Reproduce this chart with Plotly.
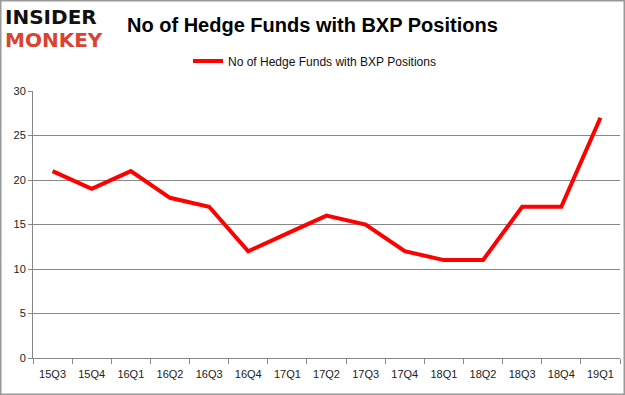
import plotly.graph_objects as go

quarters = ["15Q3", "15Q4", "16Q1", "16Q2", "16Q3", "16Q4", "17Q1", "17Q2",
            "17Q3", "17Q4", "18Q1", "18Q2", "18Q3", "18Q4", "19Q1"]
funds = [21, 19, 21, 18, 17, 12, 14, 16, 15, 12, 11, 11, 17, 17, 27]
series_name = "No of Hedge Funds with BXP Positions"
y_ticks = [0, 5, 10, 15, 20, 25, 30]

W, H = 625, 395
L, R, T, B = 33, 5, 91, 37
PW, PH = W - L - R, H - T - B


def px(x):
    return (x - L) / PW


def py(y):
    return (H - B - y) / PH


fig = go.Figure()
fig.add_trace(go.Scatter(x=quarters, y=funds, mode="lines", name=series_name,
                         line=dict(color="#FF0000", width=4)))

axis_font = dict(family="Liberation Sans, Arial, sans-serif", size=11, color="#222222")
fig.update_layout(
    width=W, height=H,
    margin=dict(l=L, r=R, t=T, b=B, autoexpand=False),
    paper_bgcolor="white", plot_bgcolor="white",
    showlegend=True,
    legend=dict(orientation="h", x=px(188), xanchor="left", y=py(61), yanchor="middle",
                font=dict(family="Liberation Sans, Arial, sans-serif", size=12, color="#111111"),
                bgcolor="rgba(0,0,0,0)"),
    xaxis=dict(type="category", range=[-0.5, 14.5], showgrid=False, automargin=False,
               showline=True, linecolor="#888888", linewidth=1,
               ticks="outside", tickson="boundaries", ticklen=5, tickcolor="#888888",
               ticklabelstandoff=6, tickfont=axis_font),
    yaxis=dict(range=[0, 30], tickvals=y_ticks, showgrid=True, gridcolor="#888888",
               gridwidth=1, showline=True, linecolor="#888888", linewidth=1, automargin=False,
               ticks="outside", ticklen=4, tickcolor="#888888", zeroline=False,
               tickfont=axis_font),
)

fig.add_annotation(text="<b>No of Hedge Funds with BXP Positions</b>", xref="paper", yref="paper",
                   x=px(312), y=py(25), showarrow=False,
                   font=dict(family="Liberation Sans, Arial, sans-serif", size=20, color="#000000"),
                   xanchor="center", yanchor="middle")

fig.add_annotation(text="<b>INSIDER</b>", xref="paper", yref="paper",
                   x=px(3), y=py(17), showarrow=False,
                   font=dict(family="DejaVu Sans, sans-serif", size=20, color="#111111"),
                   xanchor="left", yanchor="middle")
fig.add_annotation(text="<b>MONKEY</b>", xref="paper", yref="paper",
                   x=px(3), y=py(40), showarrow=False,
                   font=dict(family="DejaVu Sans, sans-serif", size=20, color="#D9432F"),
                   xanchor="left", yanchor="middle")

fig.add_shape(type="rect", xref="paper", yref="paper",
              x0=px(0.75), x1=px(624.25), y0=py(394.25), y1=py(0.75),
              line=dict(color="#999999", width=1.5), layer="above")

fig.write_html("out.html", config={"displayModeBar": False},
               post_script="document.body.style.margin='0';document.body.style.padding='0';")
